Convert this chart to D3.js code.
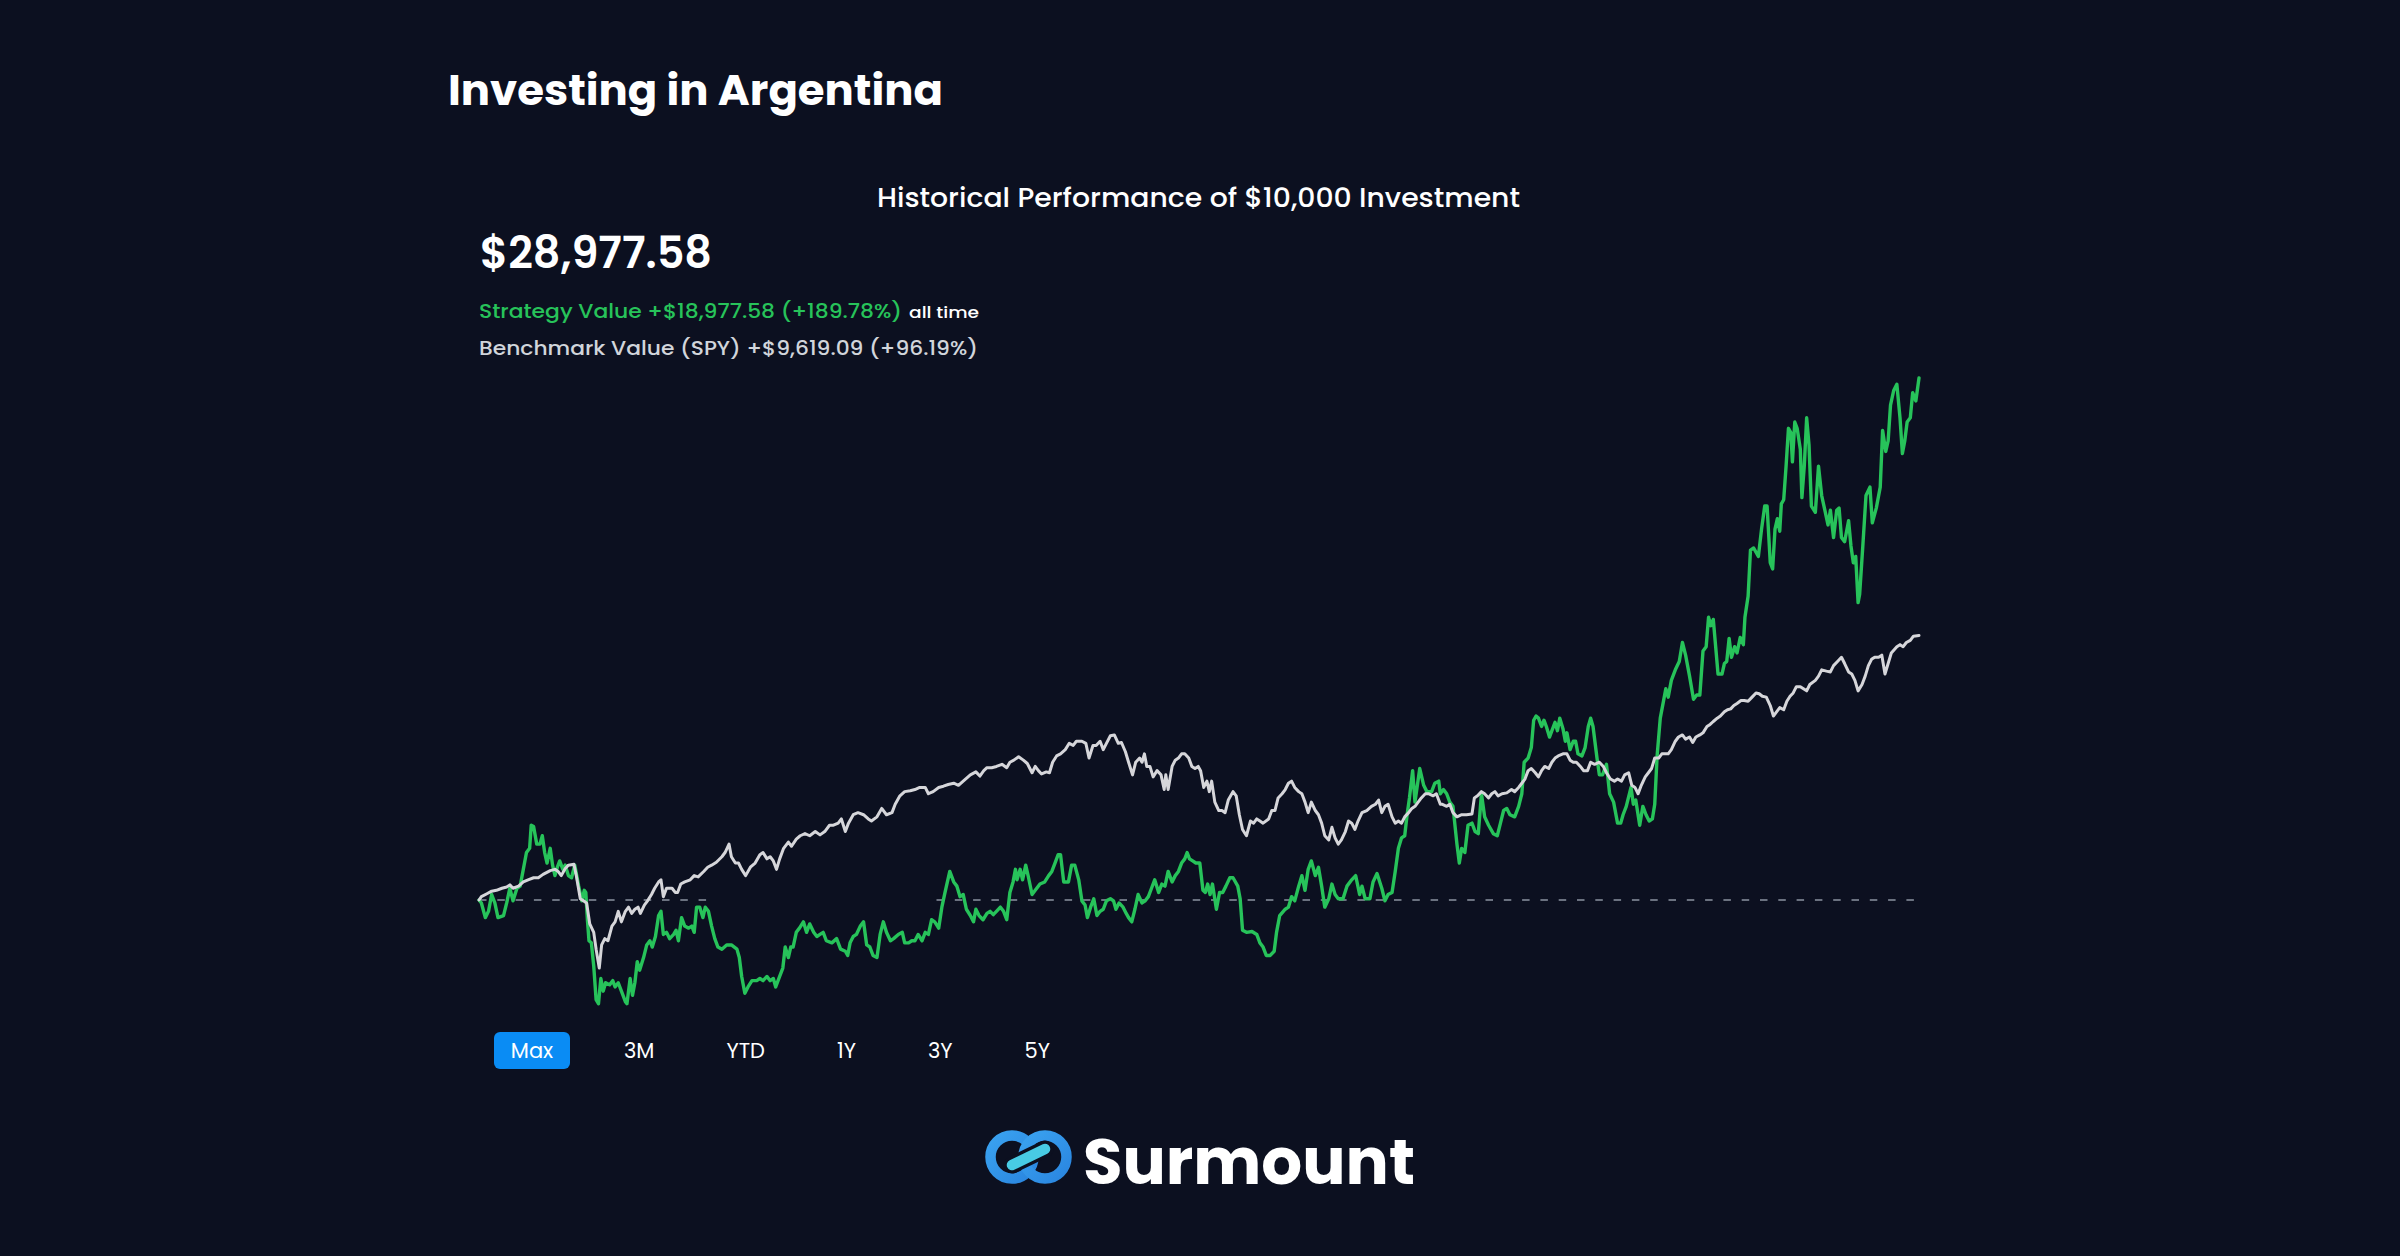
<!DOCTYPE html>
<html><head><meta charset="utf-8">
<script src="https://cdn.jsdelivr.net/npm/d3@7"></script>
<style>
html,body{margin:0;padding:0;background:#0c1020;}
svg{display:block;}
</style></head><body>
<svg id="chart" width="2400" height="1256"></svg>
<script>
// ---------- DATA (day since inception, portfolio value in $) ----------
const strategy = [
[0,10000],[3,9893],[8,9359],[12,9588],[16,10199],[20,9893],[24,9359],[31,9435],[35,9893],[39,10428],[43,9969],[48,10428],[52,10504],[56,11115],[60,11726],[64,11878],[66,12718],[69,12672],[73,12031],[77,12031],[80,12336],[83,11726],[86,11344],[90,11878],[93,11267],[96,10886],[99,11191],[102,11420],[106,11115],[109,11267],[113,10886],[117,10809],[121,11267],[126,10504],[130,9969],[133,10351],[135,10275],[137,9282],[139,8519],[142,8442],[145,7603],[148,6381],[151,6228],[154,7145],[157,6686],[160,6992],[165,6915],[169,7068],[172,6839],[176,6992],[180,6686],[185,6305],[187,6228],[191,7145],[194,6534],[197,6992],[200,7755],[203,7450],[208,7908],[212,8366],[216,8519],[219,8290],[223,8672],[227,9435],[230,9588],[233,8748],[237,8824],[241,8595],[246,8748],[249,8901],[252,8519],[256,9359],[260,9053],[265,8977],[269,9053],[272,8824],[275,9740],[279,9740],[283,9359],[286,9740],[290,9588],[294,9053],[298,8595],[302,8290],[307,8213],[313,8366],[319,8366],[326,8213],[329,7908],[332,7221],[336,6610],[340,6839],[345,7068],[351,7068],[355,7145],[359,7068],[364,7221],[368,7068],[372,7145],[375,6839],[380,7221],[384,7526],[387,8290],[391,7908],[394,8290],[397,8290],[401,8824],[405,8977],[410,9206],[414,8824],[418,9130],[423,8824],[427,8672],[431,8748],[435,8824],[439,8519],[446,8442],[452,8595],[457,8213],[463,8137],[466,7984],[469,8442],[473,8672],[477,8748],[482,9053],[486,9206],[490,8366],[494,8290],[498,7984],[503,7908],[507,8748],[511,9206],[515,8824],[520,8519],[524,8595],[530,8748],[535,8824],[538,8442],[543,8442],[547,8519],[551,8519],[555,8748],[560,8519],[564,8824],[568,8748],[572,9282],[576,9206],[581,8977],[585,9740],[589,10275],[592,10657],[595,11038],[600,10657],[604,10504],[608,10122],[612,10199],[616,9664],[621,9435],
[625,9206],[628,9664],[632,9435],[637,9282],[642,9511],[646,9588],[650,9466],[654,9588],[659,9740],[663,9588],[667,9282],[671,10275],[675,10657],[678,11115],[680,10733],[684,11115],[687,10733],[691,11267],[694,10886],[699,10199],[703,10351],[709,10580],[715,10657],[720,10886],[724,11038],[728,11344],[732,11649],[735,11649],[739,10657],[745,10657],[749,11267],[753,11267],[758,10733],[762,9969],[766,9817],[769,9359],[773,9740],[777,10046],[781,9435],[785,9588],[789,9664],[793,9969],[798,10046],[802,9969],[805,9664],[809,9893],[814,9740],[818,9511],[821,9359],[825,9206],[829,9664],[833,10199],[838,9893],[842,9969],[846,10122],[850,10428],[854,10733],[859,10275],[863,10580],[867,10504],[871,11038],[876,10657],[880,10886],[884,11038],[888,11344],[892,11496],[895,11726],[898,11496],[902,11420],[906,11344],[911,11344],[915,10351],[918,10275],[921,10580],[924,10199],[927,10580],[932,9664],[936,10275],[940,10275],[944,10504],[949,10809],[953,10809],[959,10504],[962,10046],[965,8901],[970,8824],[977,8855],[983,8748],[987,8442],[991,8290],[995,7984],[1000,7984],[1005,8137],[1008,8824],[1012,9435],[1019,9664],[1023,9740],[1027,10122],[1031,9969],[1036,10504],[1040,10886],[1044,10351],[1048,11115],[1052,11420],[1057,10886],[1061,11191],[1065,10504],[1069,9740],[1074,10046],[1078,10580],[1082,10199],[1086,10046],[1092,10046],[1097,10504],[1103,10733],[1108,10886],[1113,10199],[1116,10504],[1120,10046],[1126,10046],[1130,10657],[1135,10962],[1141,10428],[1145,9969],[1149,10199],[1154,10275],[1158,11038],[1162,11878],[1166,12260],[1170,12336],[1173,13100],[1176,13711],[1180,14703],[1183,13558],[1186,14169],[1189,14780],[1194,14169],[1198,13940],[1204,13940],[1208,14245],[1213,14321],[1215,13863],
[1219,14016],[1223,13863],[1227,13558],[1231,13405],[1236,12031],[1239,11344],[1242,11878],[1246,11726],[1250,12718],[1255,12794],[1259,12489],[1263,12413],[1267,13863],[1271,13023],[1276,12718],[1282,12413],[1287,12336],[1291,12794],[1295,13253],[1299,13329],[1303,13100],[1309,13023],[1314,13405],[1318,13863],[1321,15009],[1326,15161],[1330,15543],[1333,16536],[1336,16688],[1339,16612],[1343,16307],[1346,16536],[1349,16307],[1353,15925],[1357,16230],[1360,16459],[1363,16154],[1366,16612],[1370,16230],[1373,15772],[1375,16077],[1379,15467],[1383,15772],[1386,15772],[1389,15314],[1394,15238],[1398,15543],[1402,16307],[1405,16612],[1408,16307],[1413,15161],[1416,14550],[1420,14550],[1425,14932],[1429,13863],[1434,13558],[1439,12794],[1443,12794],[1446,13100],[1450,13405],[1456,14092],[1459,13482],[1462,13634],[1467,12718],[1471,13405],[1475,13100],[1479,12871],[1483,12947],[1486,13482],[1489,15238],[1493,16612],[1497,17223],[1500,17681],[1503,17375],[1507,17986],[1512,18368],[1517,18673],[1521,19361],[1525,18902],[1530,18139],[1535,17299],[1539,17452],[1543,17452],[1547,19055],[1551,19208],[1554,20277],[1557,19971],[1560,20200],[1563,19208],[1566,18215],[1571,18215],[1574,18597],[1577,18673],[1580,19513],[1583,18826],[1587,19208],[1590,18979],[1594,19544],[1598,19284],[1600,20277],[1604,21040],[1607,22720],[1611,22796],[1617,22491],[1621,23483],[1625,24323],[1628,24323],[1632,22262],[1635,22033],[1638,23483],[1641,23865],[1644,23407],[1646,24400],[1649,24552],[1652,25774],[1655,27148],[1658,26996],[1660,25927],[1663,27377],[1666,27148],[1670,26385],[1672,24629],[1675,25774],[1678,27530],[1681,26537],[1684,24323],[1689,24094],[1693,25774],[1697,24705],[1701,24171],[1705,23636],[1708,24171],[1712,23178],[1716,24171],[1719,24247],[1722,23178],[1726,23025],[1731,23789],[1734,22873],[1737,22262],[1740,22491],[1743,20811],[1745,21117],[1749,22873],[1753,24705],[1758,25010],[1761,23712],[1766,24247],[1771,25010],[1774,27072],[1778,26308],[1781,26690],[1784,27988],[1788,28523],[1792,28752],[1796,27530],[1799,26232],[1802,26690],[1805,27377],[1809,27530],[1812,28446],[1816,28141],[1820,28977.58]
];

const benchmark = [
[0,10000],[3,10122],[10,10229],[16,10321],[22,10351],[29,10428],[35,10473],[39,10550],[43,10428],[50,10504],[56,10657],[62,10733],[69,10809],[75,10809],[81,10931],[90,11069],[96,11115],[100,11038],[104,10886],[109,11145],[113,11267],[120,11298],[123,10886],[128,10046],[132,9969],[136,9893],[140,9130],[145,8824],[148,8213],[152,7526],[155,8366],[159,8595],[163,8519],[168,9053],[172,9206],[176,9588],[180,9206],[185,9588],[189,9740],[193,9511],[197,9664],[201,9740],[204,9511],[209,9817],[213,9969],[218,10199],[222,10428],[227,10657],[230,10733],[233,10122],[237,10428],[244,10428],[248,10275],[251,10275],[255,10580],[260,10657],[267,10733],[272,10886],[277,10840],[284,11038],[289,11191],[294,11267],[300,11374],[307,11573],[311,11726],[316,12031],[319,11573],[324,11344],[328,11344],[332,11115],[337,10886],[343,11191],[349,11344],[355,11649],[359,11726],[364,11496],[368,11573],[372,11420],[376,11115],[380,11496],[385,11878],[391,12107],[395,11955],[401,12214],[406,12336],[412,12413],[418,12336],[425,12489],[431,12367],[437,12489],[443,12718],[448,12718],[454,12794],[458,12947],[463,12489],[467,12794],[473,13100],[479,13176],[486,13100],[492,12947],[496,12871],[503,13023],[509,13329],[515,13100],[522,13176],[526,13482],[532,13787],[538,13940],[545,13970],[551,14016],[557,14092],[564,14092],[568,13863],[574,13940],[581,14092],[587,14138],[593,14199],[600,14245],[606,14169],[612,14321],[621,14550],
[628,14657],[633,14505],[638,14703],[642,14810],[648,14810],[654,14856],[661,14932],[667,14810],[671,15009],[676,15085],[682,15207],[688,15085],[693,14963],[699,14627],[703,14856],[707,14703],[711,14581],[717,14657],[721,14627],[725,15009],[730,15238],[735,15314],[741,15467],[746,15696],[751,15619],[755,15772],[762,15772],[767,15696],[771,15161],[776,15619],[780,15619],[785,15772],[789,15467],[793,15696],[798,15971],[803,16001],[808,15696],[812,15726],[817,15390],[821,15009],[826,14550],[830,15009],[835,15161],[838,15009],[841,15314],[844,14856],[848,14856],[852,14474],[857,14703],[862,14550],[866,14016],[868,14550],[871,14016],[876,14856],[880,15085],[884,15161],[888,15314],[892,15314],[897,15161],[901,14856],[905,14780],[909,14856],[912,14703],[916,14092],[920,14321],[923,13940],[926,14321],[930,13558],[935,13253],[939,13253],[943,13176],[947,13634],[953,13940],[957,13787],[961,13100],[965,12565],[970,12336],[975,12871],[979,12794],[983,12947],[987,12871],[991,12794],[998,12947],[1002,13253],[1006,13253],[1010,13711],[1015,13863],[1019,14016],[1023,14245],[1027,14321],[1031,14092],[1036,13940],[1040,13863],[1044,13558],[1048,13176],[1052,13558],[1057,13253],[1061,13100],[1065,12794],[1069,12336],[1074,12184],[1078,12642],[1082,12260],[1086,12031],[1090,12184],[1095,12489],[1099,12871],[1103,12794],[1107,12565],[1111,12871],[1116,13176],[1122,13253],[1128,13405],[1133,13482],[1137,13634],[1141,13176],[1145,13405],[1149,13482],[1154,13023],[1158,12794],[1162,12871],[1166,12794],[1170,13023],[1175,13176],[1179,13329],[1183,13405],[1187,13558],[1191,13711],[1196,13863],[1200,13863],[1206,13787],[1210,13863],[1215,13482],
[1217,13482],[1223,13405],[1227,13482],[1231,13176],[1236,13023],[1242,13100],[1248,13100],[1255,13130],[1258,13711],[1262,13787],[1267,13940],[1271,13863],[1276,13711],[1280,13863],[1284,13940],[1288,13787],[1293,13863],[1299,13894],[1305,14016],[1309,13940],[1314,14092],[1318,14245],[1322,14398],[1326,14703],[1330,14780],[1335,14627],[1339,14474],[1343,14703],[1347,14856],[1352,14780],[1356,15009],[1360,15161],[1364,15238],[1370,15314],[1375,15314],[1379,15085],[1383,15009],[1387,15009],[1392,14856],[1396,14703],[1401,14703],[1405,15009],[1410,14932],[1416,15009],[1421,14856],[1425,14627],[1430,14398],[1435,14321],[1439,14398],[1444,14321],[1448,14550],[1453,14627],[1457,14169],[1461,14092],[1465,13863],[1469,14169],[1474,14474],[1478,14627],[1482,14780],[1486,15161],[1491,15161],[1495,15314],[1499,15314],[1503,15314],[1507,15467],[1512,15772],[1516,15925],[1521,16001],[1525,15848],[1530,15925],[1534,15726],[1538,15925],[1543,16001],[1547,16077],[1552,16307],[1556,16383],[1560,16490],[1565,16612],[1569,16688],[1574,16841],[1578,16917],[1582,16948],[1586,17070],[1590,17146],[1595,17253],[1599,17253],[1604,17223],[1609,17375],[1614,17528],[1618,17498],[1622,17406],[1627,17375],[1632,17070],[1636,16688],[1640,16841],[1644,16994],[1649,16917],[1653,17223],[1657,17406],[1661,17528],[1665,17757],[1670,17757],[1674,17681],[1678,17604],[1682,17834],[1689,17986],[1693,18139],[1697,18368],[1703,18322],[1708,18292],[1712,18521],[1717,18673],[1722,18826],[1726,18597],[1731,18292],[1735,18215],[1739,17986],[1743,17604],[1748,17834],[1752,18139],[1756,18521],[1760,18750],[1764,18826],[1769,18826],[1773,18902],[1777,18215],[1781,18597],[1785,18979],[1792,19208],[1796,19284],[1800,19208],[1804,19361],[1809,19437],[1813,19590],[1820,19619.09]
];

const initialInvestment = 10000;
const rangeButtons = ["Max", "3M", "YTD", "1Y", "3Y", "5Y"];
const titleText = "Investing in Argentina";
const subtitleText = "Historical Performance of $10,000 Investment";
const benchmarkTicker = "SPY";
const brandName = "Surmount";

// ---------- STYLE ----------
const BG = "#0c1020";
const GREEN = "#27c35a";
const WHITE_LINE = "#d6d6da";
const FONT = "Poppins, Inter, 'Noto Sans', sans-serif";

const svg = d3.select("#chart");
svg.append("rect").attr("width", 2400).attr("height", 1256).attr("fill", BG);

function fit(sel, w) { return sel.attr("textLength", w).attr("lengthAdjust", "spacingAndGlyphs"); }

// Title
fit(svg.append("text").attr("x", 448).attr("y", 105)
  .attr("font-family", FONT).attr("font-weight", 700).attr("font-size", 42)
  .attr("fill", "#ffffff").text(titleText), 495);

// Subtitle
fit(svg.append("text").attr("x", 877).attr("y", 207)
  .attr("font-family", FONT).attr("font-weight", 500).attr("font-size", 26)
  .attr("fill", "#ffffff").text(subtitleText), 643);

// Headline numbers from data
const money = d3.format("$,.2f");
const pctFmt = d3.format(".2f");
const sLast = strategy[strategy.length - 1][1];
const bLast = benchmark[benchmark.length - 1][1];
const sGain = sLast - initialInvestment, bGain = bLast - initialInvestment;

fit(svg.append("text").attr("x", 480).attr("y", 268)
  .attr("font-family", FONT).attr("font-weight", 600).attr("font-size", 44)
  .attr("fill", "#ffffff").text(money(sLast)), 232);

fit(svg.append("text").attr("x", 479).attr("y", 318)
  .attr("font-family", FONT).attr("font-weight", 500).attr("font-size", 20)
  .attr("fill", GREEN)
  .text(`Strategy Value +${money(sGain)} (+${pctFmt(sGain / initialInvestment * 100)}%)`), 423);

fit(svg.append("text").attr("x", 909).attr("y", 318)
  .attr("font-family", FONT).attr("font-weight", 500).attr("font-size", 16)
  .attr("fill", "#ffffff").text("all time"), 70);

fit(svg.append("text").attr("x", 479).attr("y", 355)
  .attr("font-family", FONT).attr("font-weight", 500).attr("font-size", 20)
  .attr("fill", "#d1d5db")
  .text(`Benchmark Value (${benchmarkTicker}) +${money(bGain)} (+${pctFmt(bGain / initialInvestment * 100)}%)`), 499);

// ---------- CHART ----------
const x = d3.scaleLinear().domain(d3.extent(strategy, d => d[0])).range([479, 1919]);
const y = d3.scaleLinear().domain([initialInvestment, d3.max(strategy, d => d[1])]).range([900, 378]);

// dashed reference at initial investment (hidden in a middle stretch as in the source)
const period = 18.3;
const x0 = x.range()[0];
[[0, 294.5], [566, 1820]].forEach(([a, b]) => {
  svg.append("line")
    .attr("x1", x(a)).attr("x2", x(b))
    .attr("y1", y(initialInvestment)).attr("y2", y(initialInvestment))
    .attr("stroke", "#6b7280").attr("stroke-width", 2)
    .attr("stroke-dasharray", "7.5 10.8")
    .attr("stroke-dashoffset", (x(a) - x0) % period);
});

const line = d3.line().x(d => x(d[0])).y(d => y(d[1])).curve(d3.curveLinear);

svg.append("path").datum(strategy).attr("d", line)
  .attr("fill", "none").attr("stroke", GREEN).attr("stroke-width", 3.4)
  .attr("stroke-linejoin", "round").attr("stroke-linecap", "round");

svg.append("path").datum(benchmark).attr("d", line)
  .attr("fill", "none").attr("stroke", WHITE_LINE).attr("stroke-width", 3)
  .attr("stroke-linejoin", "round").attr("stroke-linecap", "round");

// ---------- RANGE BUTTONS ----------
const btnG = svg.append("g");
let bx = 494;
rangeButtons.forEach((label, i) => {
  const t = btnG.append("text").attr("y", 1058)
    .attr("font-family", FONT).attr("font-weight", 400).attr("font-size", 21)
    .attr("fill", "#ffffff").attr("text-anchor", "middle").text(label);
  const w = t.node().getComputedTextLength() + 36;
  if (i === 0) {
    btnG.insert("rect", "text").attr("x", bx).attr("y", 1032).attr("width", 76).attr("height", 37)
      .attr("rx", 6).attr("fill", "#0a8cf4");
    t.attr("x", bx + 38);
    bx += 76 + 36;
  } else {
    t.attr("x", bx + w / 2);
    bx += w + 36;
  }
});

// ---------- LOGO ----------
const logo = svg.append("g");
const defs = svg.append("defs");
const g1 = defs.append("linearGradient").attr("id", "ringGrad").attr("x1", 0).attr("y1", 0).attr("x2", 1).attr("y2", 1);
g1.append("stop").attr("offset", "0%").attr("stop-color", "#3aa2f0");
g1.append("stop").attr("offset", "100%").attr("stop-color", "#2a86e0");
logo.append("circle").attr("cx", 1012).attr("cy", 1157).attr("r", 21.5)
  .attr("fill", "none").attr("stroke", "url(#ringGrad)").attr("stroke-width", 10.5);
logo.append("circle").attr("cx", 1045).attr("cy", 1157).attr("r", 21.5)
  .attr("fill", "none").attr("stroke", "url(#ringGrad)").attr("stroke-width", 10.5);
logo.append("line").attr("x1", 1012).attr("y1", 1165).attr("x2", 1045).attr("y2", 1149)
  .attr("stroke", BG).attr("stroke-width", 17).attr("stroke-linecap", "round");
logo.append("line").attr("x1", 1012).attr("y1", 1165).attr("x2", 1045).attr("y2", 1149)
  .attr("stroke", "#48cbe4").attr("stroke-width", 10.5).attr("stroke-linecap", "round");

fit(svg.append("text").attr("x", 1083).attr("y", 1184)
  .attr("font-family", FONT).attr("font-weight", 700).attr("font-size", 64)
  .attr("fill", "#ffffff").text(brandName), 332);
</script>
</body></html>
